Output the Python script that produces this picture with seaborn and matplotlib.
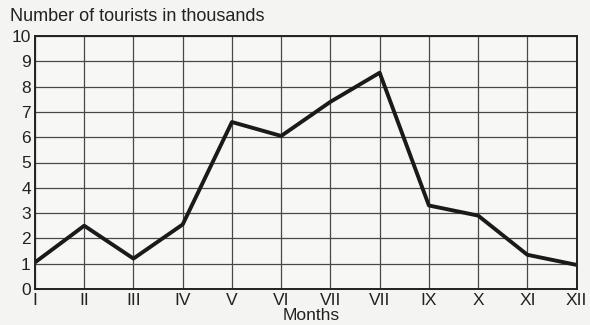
import matplotlib
matplotlib.use("Agg")
import matplotlib.pyplot as plt
import seaborn as sns
import pandas as pd

months = ["I", "II", "III", "IV", "V", "VI", "VII", "VII", "IX", "X", "XI", "XII"]
tourists = [1.05, 2.5, 1.2, 2.55, 6.6, 6.05, 7.4, 8.55, 3.3, 2.9, 1.35, 0.95]
y_ticks = list(range(0, 11))

sns.set_theme(style="white")
plt.rcParams["font.family"] = ["Liberation Sans", "DejaVu Sans"]

df = pd.DataFrame({"pos": range(len(months)), "tourists": tourists})

fig = plt.figure(figsize=(5.9, 3.25), dpi=100)
fig.patch.set_facecolor("#f4f4f2")
ax = fig.add_axes([0.0593, 0.111, 0.918, 0.778])
ax.set_facecolor("#f7f7f5")

sns.lineplot(data=df, x="pos", y="tourists", ax=ax, color="#1a1a1a", linewidth=2.8)

ax.set_xlim(0, len(months) - 1)
ax.set_ylim(0, 10)
ax.set_xticks(range(len(months)))
ax.set_xticklabels(months, fontsize=12.5, color="#222222")
ax.set_yticks(y_ticks)
ax.set_yticklabels([str(v) for v in y_ticks], fontsize=12.5, color="#222222")
ax.tick_params(axis="both", length=0, pad=3)
ax.grid(True, color="#484848", linewidth=0.9)
ax.set_axisbelow(True)
for s in ax.spines.values():
    s.set_visible(True)
    s.set_color("#222222")
    s.set_linewidth(1.4)

ax.set_xlabel("")
ax.set_ylabel("")
fig.text(0.527, 0.005, "Months", fontsize=12.5, color="#222222",
         ha="center", va="bottom")
fig.text(0.017, 0.948, "Number of tourists in thousands", fontsize=13,
         color="#222222", ha="left", va="center")

fig.savefig("out.png", dpi=100, facecolor=fig.get_facecolor())
